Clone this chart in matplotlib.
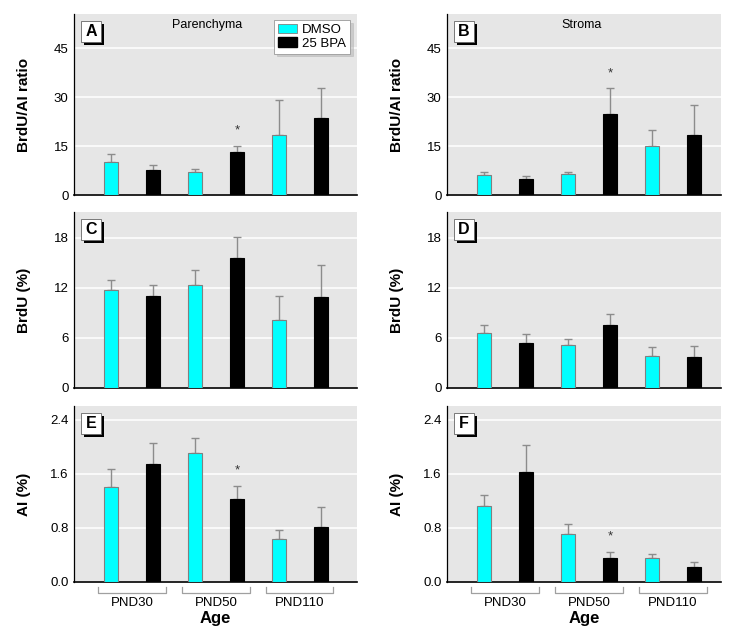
import matplotlib
matplotlib.use("Agg")
import matplotlib.pyplot as plt
import matplotlib.transforms as mtransforms
from matplotlib.patches import Patch, Rectangle

plt.rcParams['font.family'] = ['Liberation Sans', 'DejaVu Sans']

# Datos
edades = ["PND30", "PND50", "PND110"]
grupos = ["DMSO", "25 BPA"]

# A: parenquima, BrdU/AI
a_dmso = [10.0, 7.0, 18.4]
a_dmso_err = [2.5, 0.9, 10.7]
a_bpa = [7.6, 13.1, 23.7]
a_bpa_err = [1.5, 1.9, 9.0]
# B: estroma, BrdU/AI
b_dmso = [6.0, 6.4, 15.0]
b_dmso_err = [0.9, 0.7, 4.8]
b_bpa = [4.8, 24.8, 18.5]
b_bpa_err = [0.9, 7.9, 9.0]
# C: parenquima, BrdU
c_dmso = [11.8, 12.4, 8.1]
c_dmso_err = [1.2, 1.7, 2.9]
c_bpa = [11.0, 15.6, 10.9]
c_bpa_err = [1.3, 2.5, 3.8]
# D: estroma, BrdU
d_dmso = [6.6, 5.1, 3.8]
d_dmso_err = [1.0, 0.8, 1.1]
d_bpa = [5.4, 7.5, 3.7]
d_bpa_err = [1.1, 1.4, 1.3]
# E: parenquima, AI
e_dmso = [1.40, 1.91, 0.63]
e_dmso_err = [0.27, 0.21, 0.14]
e_bpa = [1.74, 1.22, 0.81]
e_bpa_err = [0.32, 0.20, 0.30]
# F: estroma, AI
f_dmso = [1.13, 0.71, 0.35]
f_dmso_err = [0.15, 0.14, 0.06]
f_bpa = [1.62, 0.35, 0.22]
f_bpa_err = [0.41, 0.10, 0.07]

# indice de edad con asterisco (BPA)
a_sig = [1]
b_sig = [1]
e_sig = [1]
f_sig = [1]

CIAN = "#00ffff"
FONDO = "#e6e6e6"
W, H = 733, 634


def caja(px_left, px_top, px_right, px_bottom):
    return [px_left / W, 1 - px_bottom / H, (px_right - px_left) / W, (px_bottom - px_top) / H]


def panel(ax, letra, dmso, dmso_err, bpa, bpa_err, sig, ymax, ticks, ylabel, xlim, fmt=None):
    ax.set_facecolor(FONDO)
    x_d = [2 * i for i in range(len(dmso))]
    x_b = [2 * i + 1 for i in range(len(bpa))]
    ax.bar(x_d, dmso, width=0.34, color=CIAN, edgecolor="#808080", linewidth=0.8, zorder=3)
    ax.bar(x_b, bpa, width=0.34, color="black", edgecolor="black", linewidth=0.8, zorder=3)
    ax.errorbar(x_d, dmso, yerr=[[0] * len(dmso), dmso_err], fmt="none", ecolor="#8c8c8c",
                elinewidth=1, capsize=3, capthick=1, zorder=2)
    ax.errorbar(x_b, bpa, yerr=[[0] * len(bpa), bpa_err], fmt="none", ecolor="#8c8c8c",
                elinewidth=1, capsize=3, capthick=1, zorder=2)
    for i in sig:
        ax.annotate("*", (x_b[i], bpa[i] + bpa_err[i]), xytext=(0, 11), textcoords="offset points",
                    ha="center", va="center", fontsize=9.5, color="#333333")
    ax.set_xlim(*xlim)
    ax.set_ylim(0, ymax)
    ax.set_yticks(ticks)
    if fmt:
        ax.set_yticklabels([fmt % t for t in ticks])
    ax.set_xticks([])
    ax.grid(axis="y", color="white", linewidth=1.1, zorder=1)
    ax.set_axisbelow(True)
    ax.tick_params(axis="y", length=0, pad=4, labelsize=9.5)
    for s in ["top", "right"]:
        ax.spines[s].set_visible(False)
    ax.spines["left"].set_linewidth(0.9)
    ax.spines["bottom"].set_linewidth(1.2)
    ax.set_ylabel(ylabel, fontsize=11, fontweight="bold")
    ancho = ax.get_position().width * W
    alto = ax.get_position().height * H
    ax.yaxis.set_label_coords(-43 / ancho, 0.5)
    # caja de la letra con sombra negra (en pixeles desde la esquina)
    x0, y0, bw, bh, so = 7 / ancho, 1 - 28 / alto, 20 / ancho, 21 / alto, 3
    ax.add_patch(Rectangle((x0 + so / ancho, y0 - so / alto), bw, bh, transform=ax.transAxes,
                           fc="black", ec="none", zorder=5, clip_on=False))
    ax.add_patch(Rectangle((x0, y0), bw, bh, transform=ax.transAxes,
                           fc="white", ec="#666666", lw=0.6, zorder=6, clip_on=False))
    ax.text(x0 + bw / 2, y0 + bh / 2, letra, transform=ax.transAxes, ha="center", va="center",
            fontsize=11.5, fontweight="bold", zorder=7)


fig = plt.figure(figsize=(W / 100, H / 100), dpi=100)

xl_izq = (-0.88, 5.86)
xl_der = (-0.88, 5.64)

ax_a = fig.add_axes(caja(74, 14, 357, 195))
ax_b = fig.add_axes(caja(447, 14, 721, 195))
ax_c = fig.add_axes(caja(74, 212, 357, 388))
ax_d = fig.add_axes(caja(447, 212, 721, 388))
ax_e = fig.add_axes(caja(74, 406, 357, 582))
ax_f = fig.add_axes(caja(447, 406, 721, 582))

panel(ax_a, "A", a_dmso, a_dmso_err, a_bpa, a_bpa_err, a_sig, 55.5, [0, 15, 30, 45], "BrdU/AI ratio", xl_izq)
panel(ax_b, "B", b_dmso, b_dmso_err, b_bpa, b_bpa_err, b_sig, 55.5, [0, 15, 30, 45], "BrdU/AI ratio", xl_der)
panel(ax_c, "C", c_dmso, c_dmso_err, c_bpa, c_bpa_err, [], 21.1, [0, 6, 12, 18], "BrdU (%)", xl_izq)
panel(ax_d, "D", d_dmso, d_dmso_err, d_bpa, d_bpa_err, [], 21.1, [0, 6, 12, 18], "BrdU (%)", xl_der)
panel(ax_e, "E", e_dmso, e_dmso_err, e_bpa, e_bpa_err, e_sig, 2.6, [0, 0.8, 1.6, 2.4], "AI (%)", xl_izq, "%.1f")
panel(ax_f, "F", f_dmso, f_dmso_err, f_bpa, f_bpa_err, f_sig, 2.6, [0, 0.8, 1.6, 2.4], "AI (%)", xl_der, "%.1f")

ax_a.text(0.47, 0.94, "Parenchyma", transform=ax_a.transAxes, ha="center", va="center", fontsize=9)
ax_b.text(0.49, 0.94, "Stroma", transform=ax_b.transAxes, ha="center", va="center", fontsize=9)

leyenda = ax_a.legend([Patch(fc=CIAN, ec="#808080", lw=0.6), Patch(fc="black", ec="black")], grupos,
                      loc="upper right", bbox_to_anchor=(0.975, 0.967), fontsize=9.5, frameon=True,
                      fancybox=False, shadow={"color": "#b0b0b0", "ox": 2, "oy": -2},
                      handlelength=1.4, handleheight=0.7, handletextpad=0.4, labelspacing=0.1,
                      borderpad=0.3, borderaxespad=0)
leyenda.get_frame().set_edgecolor("#999999")
leyenda.get_frame().set_linewidth(0.6)
leyenda.get_frame().set_alpha(1)

# corchetes de edad bajo los paneles inferiores
for ax in [ax_e, ax_f]:
    tr = mtransforms.blended_transform_factory(ax.transData, ax.transAxes)
    for i, edad in enumerate(edades):
        c = 2 * i + 0.5
        ax.plot([c - 0.8, c - 0.8, c + 0.8, c + 0.8], [-0.028, -0.063, -0.063, -0.028],
                transform=tr, color="#a0a0a0", lw=0.9, clip_on=False)
        ax.text(c, -0.118, edad, transform=tr, ha="center", va="center", fontsize=9.5)
    ax.text(0.5, -0.21, "Age", transform=ax.transAxes,
            ha="center", va="center", fontsize=12, fontweight="bold")

fig.savefig("out.png", dpi=100)
